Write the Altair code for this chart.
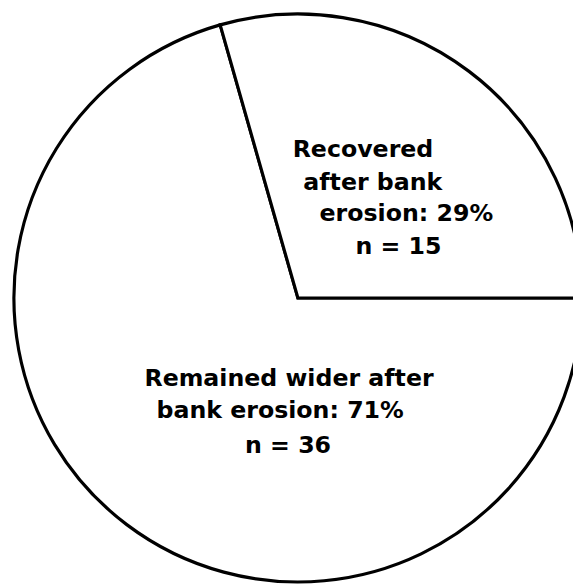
import math
import altair as alt
import pandas as pd

# ---- data ----
categories = ["Remained wider after bank erosion", "Recovered after bank erosion"]
counts = [36, 15]
percents = [71, 29]
slice_order = [0, 1]

label_lines = [
    "Recovered",
    "after bank",
    "erosion: 29%",
    "n = 15",
    "Remained wider after",
    "bank erosion: 71%",
    "n = 36",
]

df = pd.DataFrame({
    "category": categories,
    "count": counts,
    "percent": percents,
    "idx": slice_order,
})

# geometry (plot coords, styling only)
CX, CY, R = 294, 290, 288
start = math.pi / 2

pie = alt.Chart(df).mark_arc(
    outerRadius=R,
    fill="white",
    stroke="black",
    strokeWidth=3.2,
    strokeJoin="miter",
).encode(
    theta=alt.Theta("count:Q", stack=True,
                    scale=alt.Scale(range=[start, start + 2 * math.pi])),
    order=alt.Order("idx:Q"),
    x=alt.value(CX),
    y=alt.value(CY),
)

# text anchors (center x, baseline y) for each line
anchors = [
    (360, 147),
    (370, 180),
    (404, 212),
    (396, 245),
    (285, 379),
    (276, 412),
    (284, 447),
]

layers = [pie]
for line, (tx, ty) in zip(label_lines, anchors):
    layers.append(
        alt.Chart(pd.DataFrame({"t": [line]})).mark_text(
            font="DejaVu Sans",
            fontWeight="bold",
            fontSize=24,
            align="center",
            baseline="alphabetic",
            color="black",
        ).encode(text="t:N", x=alt.value(tx), y=alt.value(ty))
    )

chart = alt.layer(*layers).properties(
    width=573,
    height=580,
    autosize=alt.AutoSizeParams(type="none"),
    padding=0,
).configure_view(stroke=None)

chart.save("out.html", embed_options={"renderer": "svg", "actions": False})
